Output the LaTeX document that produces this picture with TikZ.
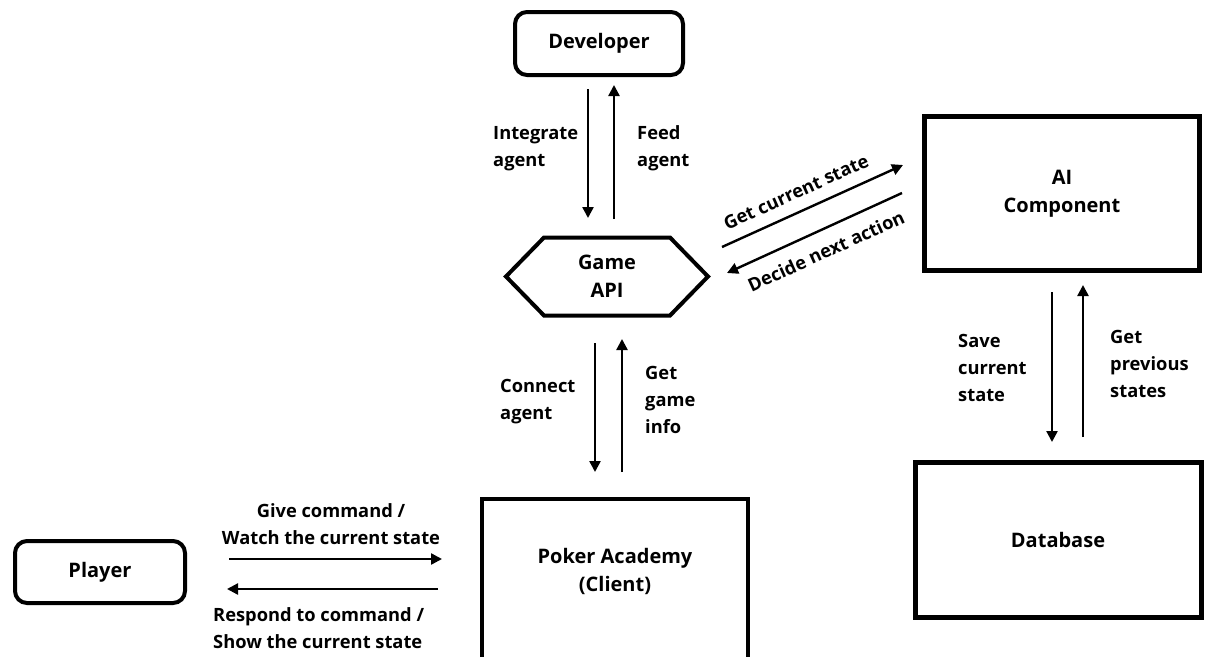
\documentclass[tikz,border=0pt]{standalone}
\usepackage{fontspec}
\setmainfont{Open Sans}
\usetikzlibrary{arrows.meta}
\begin{document}
\begin{tikzpicture}[x=1pt,y=-1pt,
  txt/.style={font=\bfseries\fontsize{18.3}{27}\selectfont, inner sep=0pt},
  title/.style={font=\bfseries\fontsize{20}{28}\selectfont, inner sep=0pt},
  lbl/.style={txt, align=left},
  frame/.style={draw, line width=4pt, title, align=center},
  rframe/.style={frame, rounded corners=12pt},
  link/.style={line width=2.4pt, -{Triangle[length=11pt,width=11pt]}}]
\useasboundingbox (0,0) rectangle (1206,656);
\clip (0,0) rectangle (1206,656);

% components
\node[rframe, minimum width=168pt, minimum height=63pt] (dev) at (599,43.5) {Developer};
\node[rframe, minimum width=170pt, minimum height=62pt] (player) at (100,572) {Player};
\node[frame, line width=5pt, minimum width=275pt, minimum height=154pt] (ai) at (1062,193.5) {AI\\Component};
\node[frame, line width=5pt, minimum width=286pt, minimum height=155pt] (db) at (1058,540) {Database};
\node[frame, minimum width=266pt, minimum height=170pt, anchor=north] (poker) at (615,497) {};
\node[title, align=center] (pokerlbl) at (615,571.5) {Poker Academy\\(Client)};

% game API hexagon
\node[title, align=center] (api) at (607,276.5) {Game\\API};
\draw[line width=4pt, line join=miter] (api.center) ++(-101,0) -- ++(38,-39) -- ++(126,0)
  -- ++(38,39) -- ++(-38,39) -- ++(-126,0) -- cycle;

% connector ends
\coordinate (devA) at (588,89);   \coordinate (apiA) at (588,218);
\coordinate (apiB) at (614,219);  \coordinate (devB) at (614,85);
\coordinate (apiC) at (595,343);  \coordinate (pokC) at (595,472);
\coordinate (pokD) at (622,472);  \coordinate (apiD) at (622,339);
\coordinate (aiE) at (1052,292);  \coordinate (dbE) at (1052,442);
\coordinate (dbF) at (1083,437);  \coordinate (aiF) at (1083,285);
\coordinate (plG) at (229,559);   \coordinate (pokG) at (442,559);
\coordinate (pokH) at (438,589);  \coordinate (plH) at (227,589);
\coordinate (apiI) at (722,247);  \coordinate (aiI) at (903,165);
\coordinate (aiJ) at (902,193);   \coordinate (apiJ) at (727,273);

% connectors
\draw[link] (devA) -- (apiA);
\draw[link] (apiB) -- (devB);
\draw[link] (apiC) -- (pokC);
\draw[link] (pokD) -- (apiD);
\draw[link] (aiE) -- (dbE);
\draw[link] (dbF) -- (aiF);
\draw[link] (plG) -- (pokG);
\draw[link] (pokH) -- (plH);
\draw[link] (apiI) -- (aiI);
\draw[link] (aiJ) -- (apiJ);

% connector labels
\node[lbl, anchor=west] (l1) at (493,148.5) {Integrate\\agent};
\node[lbl, anchor=west] (l2) at (637,148.5) {Feed\\agent};
\node[lbl, anchor=west] (l3) at (500,402) {Connect\\agent};
\node[lbl, anchor=west] (l4) at (645,400) {Get\\game\\info};
\node[lbl, anchor=west] (l5) at (958,368) {Save\\current\\state};
\node[lbl, anchor=west] (l6) at (1110,364) {Get\\previous\\states};
\node[txt, align=center] (l7) at (331,524.5) {Give command /\\Watch the current state};
\node[lbl, anchor=west] (l8) at (213,628.5) {Respond to command /\\Show the current state};
\node[txt, rotate=24.4] (l9) at (796,192) {Get current state};
\node[txt, rotate=24.4] (l10) at (826,251) {Decide next action};
\end{tikzpicture}
\end{document}
